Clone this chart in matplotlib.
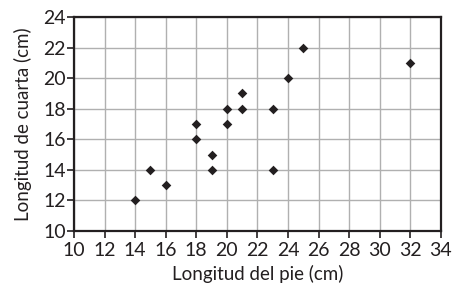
import numpy as np
import matplotlib
matplotlib.use("Agg")
from matplotlib import pyplot as plt

pie = [14, 15, 16, 18, 18, 19, 19, 20, 20, 21, 21, 23, 23, 24, 25, 32]
cuarta = [12, 14, 13, 16, 17, 14, 15, 17, 18, 18, 19, 18, 14, 20, 22, 21]
x_ticks = list(range(10, 35, 2))
y_ticks = list(range(10, 25, 2))

plt.rcParams['font.family'] = ['Lato', 'DejaVu Sans']
ink = '#231f20'

fig = plt.figure(figsize=(4.54, 2.87), dpi=100)
ax = fig.add_axes([0.163, 0.195, 0.808, 0.746])

ax.scatter(pie, cuarta, marker='D', s=24, color=ink, zorder=3, linewidths=0)

ax.set_xlim(10, 34)
ax.set_ylim(10, 24)
ax.set_xticks(x_ticks)
ax.set_yticks(y_ticks)
ax.grid(True, color='#b0b0b0', linewidth=1.0)
ax.set_axisbelow(True)
for s in ax.spines.values():
    s.set_linewidth(1.6)
    s.set_color(ink)
ax.tick_params(direction='out', length=5, width=1.2, color=ink,
               labelsize=14, labelcolor=ink)
ax.tick_params(axis='x', pad=3)
ax.tick_params(axis='y', pad=1)

ax.set_xlabel('Longitud del pie (cm)', fontsize=13.5, color=ink, labelpad=4)
ax.set_ylabel('Longitud de cuarta (cm)', fontsize=13.5, color=ink, labelpad=8)

fig.savefig('out.png', dpi=100)
